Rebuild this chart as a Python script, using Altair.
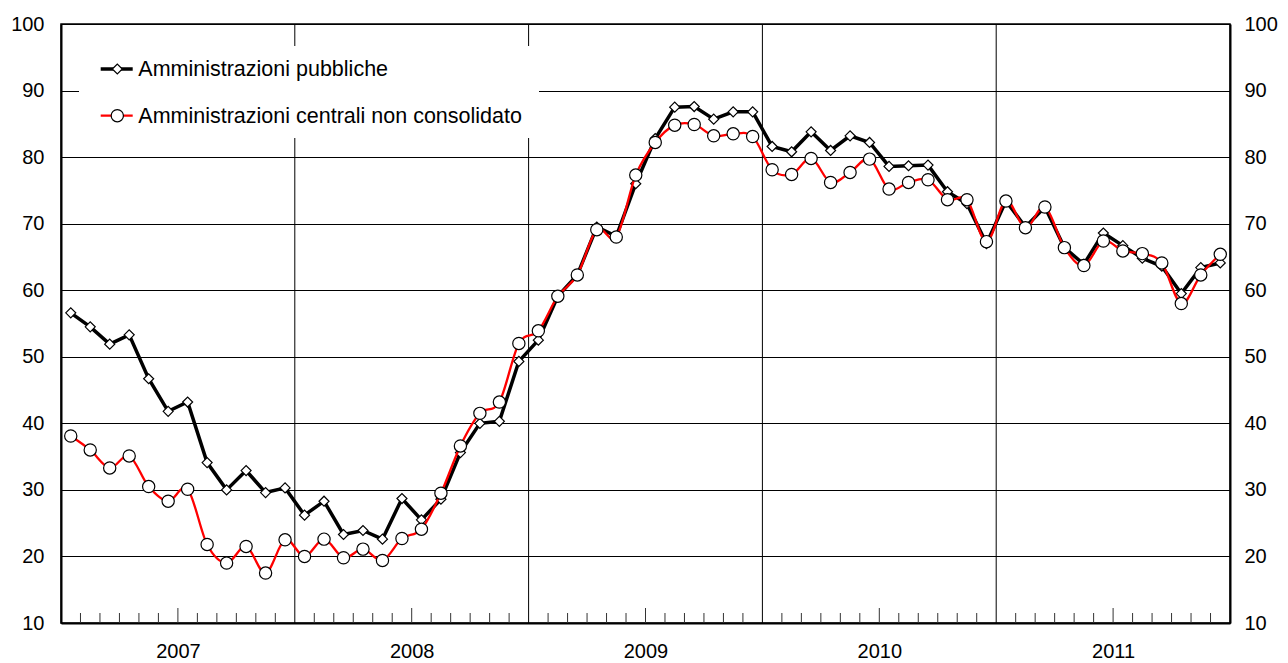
import json
import altair as alt
import numpy as np
import pandas as pd

# ---------------- data ----------------
years = ["2007", "2008", "2009", "2010", "2011"]
series_names = ["Amministrazioni pubbliche", "Amministrazioni centrali non consolidato"]

# Amministrazioni pubbliche (monthly, Jan 2007 - Dec 2011)
ap = [56.6, 54.5, 51.9, 53.3, 46.7, 41.8, 43.2, 34.1, 30.0, 32.9, 29.6, 30.3,
      26.2, 28.3, 23.3, 23.9, 22.6, 28.7, 25.5, 28.6, 35.6, 40.0, 40.3, 49.3,
      52.5, 59.1, 62.3, 69.5, 68.1, 76.0, 82.8, 87.5, 87.6, 85.7, 86.8, 86.8,
      81.6, 80.8, 83.8, 81.0, 83.2, 82.2, 78.6, 78.7, 78.8, 74.8, 73.0, 67.0,
      73.4, 69.5, 72.5, 66.4, 63.9, 68.6, 66.7, 64.8, 63.6, 59.5, 63.4, 64.1]

# Amministrazioni centrali non consolidato
ac = [38.1, 36.0, 33.3, 35.1, 30.5, 28.3, 30.1, 21.8, 19.0, 21.5, 17.5, 22.5,
      20.0, 22.6, 19.8, 21.1, 19.4, 22.7, 24.1, 29.5, 36.6, 41.5, 43.2, 52.0,
      53.9, 59.1, 62.3, 69.1, 68.0, 77.3, 82.2, 84.8, 84.9, 83.2, 83.5, 83.1,
      78.1, 77.4, 79.8, 76.2, 77.7, 79.7, 75.2, 76.2, 76.6, 73.6, 73.6, 67.3,
      73.4, 69.4, 72.5, 66.4, 63.7, 67.4, 65.9, 65.5, 64.1, 58.0, 62.3, 65.4]

y_ticks = [10, 20, 30, 40, 50, 60, 70, 80, 90, 100]

n_months = len(ap)
df = pd.DataFrame({"pos": np.arange(n_months) + 0.5, "ap": ap, "ac": ac})

boundaries = np.arange(1, n_months)
year_bounds = pd.DataFrame({"pos": boundaries[boundaries % 12 == 0]})
month_ticks = pd.DataFrame({"pos": boundaries[(boundaries % 6) != 0]})
mid_ticks = pd.DataFrame({"pos": boundaries[(boundaries % 12) == 6]})
legend_df = pd.DataFrame({"label": series_names})
one_row = pd.DataFrame({"k": [0]})

W, H = 1169, 599
FONT = "Liberation Sans"

year_centers = [12 * k + 6 for k in range(len(years))]
label_expr = f"{json.dumps(years)}[floor(datum.value / 12)]"

x_enc = alt.X(
    "pos:Q",
    scale=alt.Scale(domain=[0, n_months], nice=False, zero=False),
    axis=alt.Axis(values=year_centers, labelExpr=label_expr, title=None,
                  ticks=False, grid=False, domainWidth=2, domainColor="black",
                  labelPadding=18, labelFontSize=20),
)
y_scale = alt.Scale(domain=[10, 100], nice=False, zero=False)

# ---------------- layers ----------------
month_tick_layer = alt.Chart(month_ticks).mark_rule(color="#333333", strokeWidth=1).encode(
    x=x_enc, y=alt.value(H), y2=alt.value(H - 10))
mid_tick_layer = alt.Chart(mid_ticks).mark_rule(color="#333333", strokeWidth=1).encode(
    x=x_enc, y=alt.value(H), y2=alt.value(H - 15))
year_rule_layer = alt.Chart(year_bounds).mark_rule(color="black", strokeWidth=1).encode(
    x=x_enc, y=alt.value(0), y2=alt.value(H))

legend_box = alt.Chart(one_row).mark_rect(fill="white", stroke=None).encode(
    x=alt.value(18), x2=alt.value(478), y=alt.value(22), y2=alt.value(114))

leg1_line = alt.Chart(one_row).mark_rule(color="black", strokeWidth=3.5).encode(
    x=alt.value(39.7), x2=alt.value(71.7), y=alt.value(45))
leg1_pt = alt.Chart(one_row).mark_point(shape="diamond", size=100, fill="white", stroke="black",
                                        strokeWidth=1.2, opacity=1, filled=True).encode(
    x=alt.value(56.3), y=alt.value(45))
leg1_txt = alt.Chart(legend_df).transform_filter(
    alt.datum.label == series_names[0]).mark_text(
    align="left", baseline="alphabetic", font=FONT, fontSize=21.5, color="black").encode(
    x=alt.value(77.3), y=alt.value(52), text="label:N")

leg2_line = alt.Chart(one_row).mark_rule(color="#FF0000", strokeWidth=2.3).encode(
    x=alt.value(39.7), x2=alt.value(71.7), y=alt.value(91.7))
leg2_pt = alt.Chart(one_row).mark_point(shape="circle", size=150, fill="white", stroke="black",
                                        strokeWidth=1.2, opacity=1, filled=True).encode(
    x=alt.value(56.3), y=alt.value(91.7))
leg2_txt = alt.Chart(legend_df).transform_filter(
    alt.datum.label == series_names[1]).mark_text(
    align="left", baseline="alphabetic", font=FONT, fontSize=21.5, color="black").encode(
    x=alt.value(77.3), y=alt.value(98.5), text="label:N")

ap_line = alt.Chart(df).mark_line(color="black", strokeWidth=3.5).encode(
    x=x_enc,
    y=alt.Y("ap:Q", scale=y_scale,
            axis=alt.Axis(orient="left", values=y_ticks, title=None, grid=True,
                          gridColor="black", gridWidth=1, ticks=False,
                          domainWidth=2, domainColor="black", labelPadding=17)),
)
ap_pts = alt.Chart(df).mark_point(shape="diamond", size=100, fill="white", stroke="black",
                                  strokeWidth=1.2, opacity=1, filled=True).encode(
    x=x_enc, y=alt.Y("ap:Q", scale=y_scale, axis=None))
ac_line = alt.Chart(df).mark_line(color="#FF0000", strokeWidth=2.3, interpolate="cardinal").encode(
    x=x_enc,
    y=alt.Y("ac:Q", scale=y_scale,
            axis=alt.Axis(orient="right", values=y_ticks, title=None, grid=False,
                          ticks=False, domainWidth=2, domainColor="black", labelPadding=14)),
)
ac_pts = alt.Chart(df).mark_point(shape="circle", size=150, fill="white", stroke="black",
                                  strokeWidth=1.2, opacity=1, filled=True).encode(
    x=x_enc, y=alt.Y("ac:Q", scale=y_scale, axis=None))

chart = alt.layer(
    year_rule_layer, month_tick_layer, mid_tick_layer,
    legend_box, leg1_line, leg1_pt, leg1_txt, leg2_line, leg2_pt, leg2_txt,
    ap_line, ap_pts, ac_line, ac_pts,
).resolve_axis(y="independent").properties(
    width=W, height=H,
    autosize=alt.AutoSizeParams(type="none"),
    padding={"left": 53, "top": 16, "right": 50, "bottom": 46},
    background="white",
).configure_view(
    stroke="black", strokeWidth=1.5
).configure_axis(
    labelFont=FONT, labelFontSize=20, labelColor="black"
)

chart.save("out.html", embed_options={"renderer": "svg", "actions": False})
